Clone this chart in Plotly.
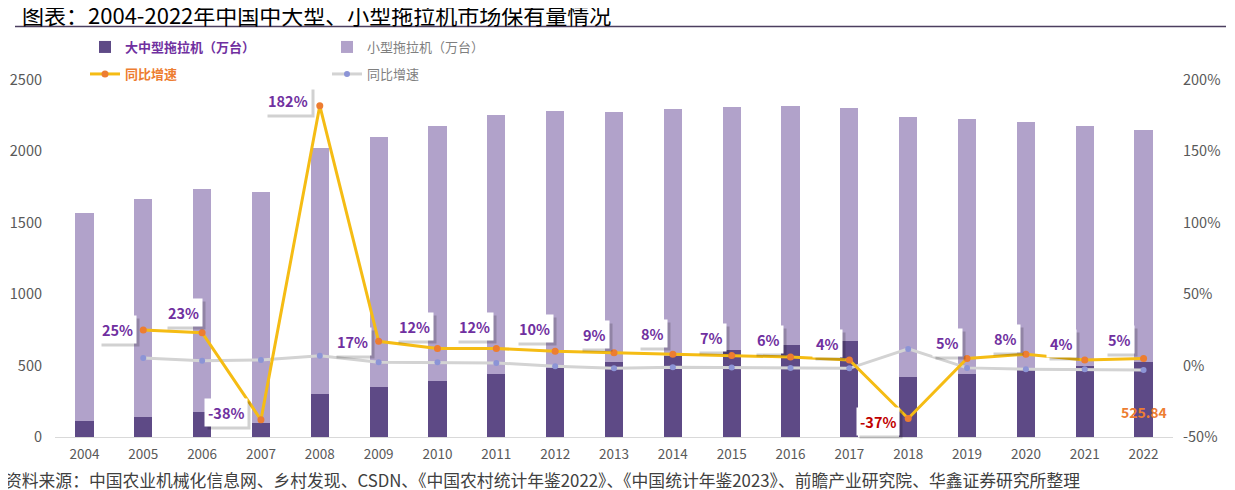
import plotly.graph_objects as go

years = [str(y) for y in range(2004, 2023)]
large_medium = [111.86, 139.6, 171.8, 100.0, 299.5, 351.6, 392.2, 440.6, 485.2, 527.0,
                568.0, 607.3, 645.4, 670.1, 421.9, 443.9, 477.3, 498.1, 525.84]
small = [1455, 1527, 1568, 1619, 1722, 1751, 1786, 1811, 1797, 1752,
         1730, 1703, 1672, 1634, 1818, 1780, 1728, 1680, 1625]
growth_years = years[1:]
growth_large = [25, 23, -38, 182, 17, 12, 12, 10, 9, 8, 7, 6, 4, -37, 5, 8, 4, 5]
growth_small = [5.3, 3.4, 3.9, 6.9, 2.4, 2.4, 1.9, -0.4, -1.9, -1.1, -1.4, -1.6, -1.9,
                11.7, -1.6, -2.6, -2.6, -3.0]
growth_labels = ["25%", "23%", "-38%", "182%", "17%", "12%", "12%", "10%", "9%", "8%",
                 "7%", "6%", "4%", "-37%", "5%", "8%", "4%", "5%"]
left_ticks = [0, 500, 1000, 1500, 2000, 2500]
right_ticks = [-50, 0, 50, 100, 150, 200]
# label offsets in pixels (dx, dy)
label_dx = [-26, -19, -35, -32, -26, -23, -22, -21, -20, -20, -20, -22, -22, -30, -20, -20, -23, -24]
label_dy = [0, 20, 7, 5, 0, 22, 22, 23, 18, 21, 18, 18, 16, -3, 16, 16, 16, 19]

DARK = "#5E4A86"
LIGHT = "#B1A2CA"
GOLD = "#F5BC14"
ORANGE = "#ED7D31"
GRAY = "#D3D3D3"
BLUEDOT = "#8C94D6"
PURPLE_TXT = "#7030A0"
FONT = "Noto Sans CJK SC"

W, H = 1235, 490
OFF = 8  # page body margin offset of the figure in the window
# plot area in window pixels
L, R, T, B = 55 - OFF, 1173 - OFF, 80 - OFF, 437 - OFF
def px(xw):
    return (xw - OFF - L) / (R - L)
def py(yw):
    return (B - (yw - OFF)) / (B - T)
def cx(xw):
    return (xw - OFF) / W
def cy(yw):
    return 1 - (yw - OFF) / H

fig = go.Figure()
fig.add_trace(go.Bar(
    x=years, y=large_medium, name=f"<b><span style='color:{PURPLE_TXT}'>大中型拖拉机（万台）</span></b>",
    marker=dict(color=DARK, line=dict(width=0)), legend="legend"))
fig.add_trace(go.Bar(
    x=years, y=small, name="<span style='color:#7F7F7F'>小型拖拉机（万台）</span>",
    marker=dict(color=LIGHT, line=dict(width=0)), legend="legend"))
fig.add_trace(go.Scatter(
    x=growth_years, y=growth_small, yaxis="y2", mode="lines+markers",
    name="<span style='color:#7F7F7F'>同比增速</span>",
    line=dict(color=GRAY, width=3), marker=dict(color=BLUEDOT, size=6),
    legend="legend2", legendrank=2))
fig.add_trace(go.Scatter(
    x=growth_years, y=growth_large, yaxis="y2", mode="lines+markers",
    name=f"<b><span style='color:{ORANGE}'>同比增速</span></b>",
    line=dict(color=GOLD, width=3), marker=dict(color=ORANGE, size=7),
    legend="legend2", legendrank=1))

annotations = []
for yr, v, t, dx, dy in zip(growth_years, growth_large, growth_labels, label_dx, label_dy):
    color = "#C00000" if t == "-37%" else PURPLE_TXT
    idx = years.index(yr)
    common = dict(x=idx, y=v, xref="x", yref="y2", showarrow=False, borderpad=3)
    annotations.append(dict(common, text=f"<b>{t}</b>", xshift=dx + 3, yshift=dy - 3,
                            bgcolor="rgba(0,0,0,0.18)",
                            font=dict(family=FONT, size=14.5, color="rgba(0,0,0,0)")))
    annotations.append(dict(common, text=f"<b>{t}</b>", xshift=dx, yshift=dy, bgcolor="white",
                            font=dict(family=FONT, size=14.5, color=color)))

annotations.append(dict(x=len(years) - 1, y=large_medium[-1], xref="x", yref="y", showarrow=False,
                        text=f"<b>{large_medium[-1]:.2f}</b>", xshift=0, yshift=-50,
                        font=dict(family=FONT, size=14, color=ORANGE)))
annotations.append(dict(x=px(3), y=py(480), xref="paper", yref="paper",
                        showarrow=False, xanchor="left", yanchor="middle",
                        text="资料来源：中国农业机械化信息网、乡村发现、CSDN、《中国农村统计年鉴2022》、《中国统计年鉴2023》、前瞻产业研究院、华鑫证券研究所整理",
                        font=dict(family=FONT, size=16.8, color="#404040")))

fig.update_layout(
    width=W, height=H,
    margin=dict(l=L, r=W - R, t=T, b=H - B, autoexpand=False),
    paper_bgcolor="white", plot_bgcolor="white",
    barmode="stack", bargap=0.69,
    font=dict(family=FONT, size=13, color="#595959"),
    title=dict(text="图表：2004-2022年中国中大型、小型拖拉机市场保有量情况",
               x=cx(22), xref="container", xanchor="left",
               y=cy(16), yref="container", yanchor="middle",
               font=dict(family=FONT, size=22, color="#000000")),
    xaxis=dict(type="category", showgrid=False, showline=True, linecolor="#D9D9D9",
               linewidth=1, ticks="", tickfont=dict(size=13.5, color="#595959"),
               ticklabelstandoff=5, range=[-0.5, len(years) - 0.5]),
    yaxis=dict(range=[0, 2500], tickvals=left_ticks, ticktext=[str(v) for v in left_ticks],
               showgrid=False, zeroline=False, tickfont=dict(size=14.5, color="#595959"),
               ticklabelstandoff=12),
    yaxis2=dict(range=[-50, 200], tickvals=right_ticks, ticktext=[f"{v}%" for v in right_ticks],
                overlaying="y", side="right", showgrid=False, zeroline=False,
                tickfont=dict(size=14.5, color="#595959"), ticklabelstandoff=9),
    legend=dict(orientation="h", x=cx(85), y=cy(47), xref="container", yref="container",
                xanchor="left", yanchor="middle", entrywidth=197, entrywidthmode="pixels",
                font=dict(family=FONT, size=13), bgcolor="rgba(0,0,0,0)", traceorder="normal"),
    legend2=dict(orientation="h", x=cx(85), y=cy(74), xref="container", yref="container",
                 xanchor="left", yanchor="middle", entrywidth=197, entrywidthmode="pixels",
                 font=dict(family=FONT, size=13), bgcolor="rgba(0,0,0,0)", traceorder="normal"),
    annotations=annotations,
    shapes=[dict(type="line", xref="paper", yref="paper",
                 x0=px(15), x1=px(1226), y0=py(26.5), y1=py(26.5),
                 line=dict(color="#4B3F5F", width=1.5))],
)

fig.write_html("out.html")
